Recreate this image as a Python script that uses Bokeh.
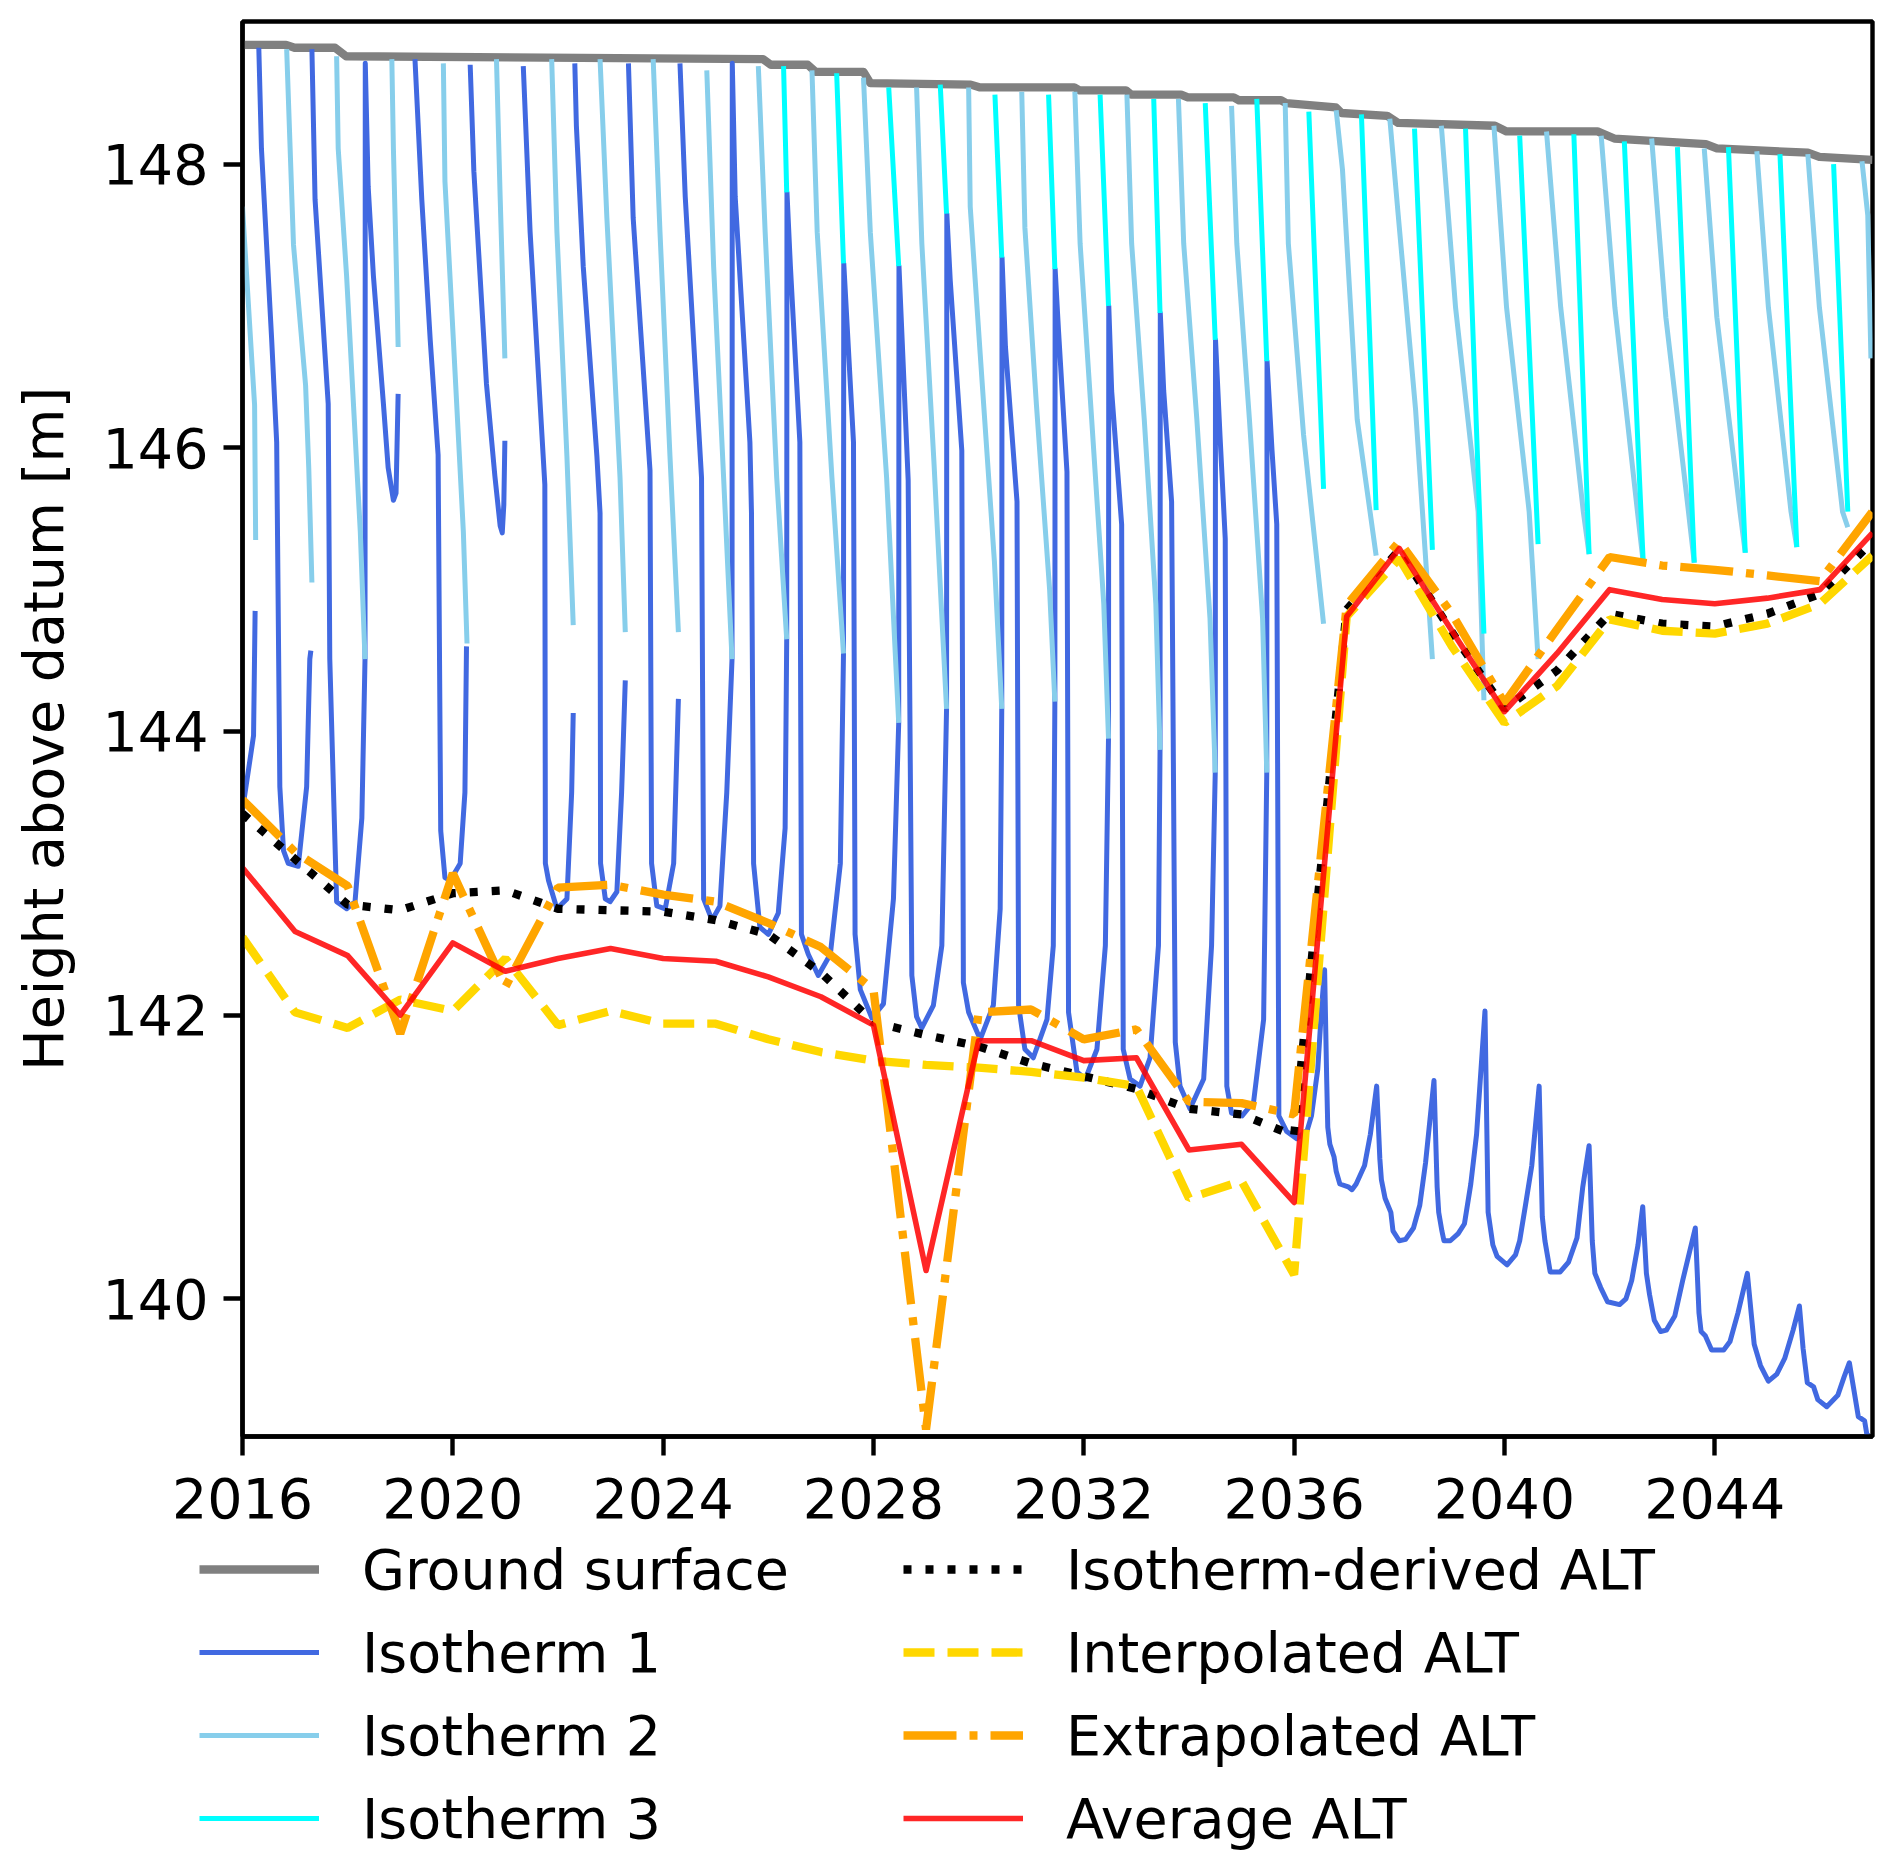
import math
from bokeh.plotting import figure
from bokeh.models import Range1d, FixedTicker, Legend, LegendItem
from bokeh.embed import file_html
from bokeh.resources import INLINE

NaN = float("nan")

# ---------------- data ----------------
years = list(range(2016, 2048))

isotherm_alt = [143.42, 143.10, 142.78, 142.74, 142.86, 142.88, 142.75, 142.74, 142.73, 142.67,
                142.57, 142.30, 141.95, 141.86, 141.78, 141.66, 141.57, 141.48, 141.34, 141.30,
                141.15, 144.86, 145.28, 144.70, 144.16, 144.43, 144.83, 144.76, 144.74, 144.83,
                144.97, 145.34]
interp_alt = [142.55, 142.02, 141.91, 142.11, 142.03, 142.40, 141.93, 142.03, 141.94, 141.94,
              141.83, 141.74, 141.68, 141.65, 141.63, 141.60, 141.56, 141.50, 140.71, 140.83,
              140.17, 144.81, 145.22, 144.60, 144.06, 144.32, 144.79, 144.71, 144.69, 144.76,
              144.90, 145.24]
extrap_alt = [143.52, 143.15, 142.91, 141.87, 143.00, 142.20, 142.90, 142.92, 142.85, 142.80,
              142.65, 142.48, 142.18, 139.08, 142.02, 142.04, 141.83, 141.90, 141.39, 141.38,
              141.30, 144.89, 145.34, 144.83, 144.20, 144.72, 145.23, 145.17, 145.14, 145.10,
              145.06, 145.55]
avg_alt = [143.04, 142.59, 142.42, 142.00, 142.51, 142.31, 142.40, 142.47, 142.40, 142.38,
           142.27, 142.13, 141.93, 140.20, 141.82, 141.82, 141.68, 141.70, 141.05, 141.09,
           140.68, 144.81, 145.29, 144.71, 144.14, 144.55, 145.00, 144.93, 144.90, 144.94,
           145.00, 145.40]

ground_t = [2016.0, 2016.83, 2016.99, 2017.76, 2017.97, 2025.9, 2026.05, 2026.75, 2026.9,
            2027.81, 2027.94, 2029.85, 2030.03, 2031.82, 2031.92, 2032.8, 2032.9, 2033.85,
            2033.98, 2034.85, 2034.95, 2035.75, 2035.85, 2036.79, 2036.90, 2037.77, 2037.98,
            2039.82, 2040.04, 2041.77, 2042.09, 2043.83, 2044.04, 2045.77, 2045.99, 2047.0]
ground_z = [148.84, 148.84, 148.82, 148.82, 148.76, 148.74, 148.70, 148.70, 148.65,
            148.65, 148.57, 148.56, 148.54, 148.54, 148.52, 148.52, 148.49, 148.49,
            148.47, 148.47, 148.45, 148.45, 148.43, 148.40, 148.36, 148.34, 148.29,
            148.27, 148.23, 148.23, 148.18, 148.14, 148.11, 148.08, 148.05, 148.03]

# Isotherm 1 (deepest crossing): segments of (time, height)
iso1_segments = [
    [(2016.00, 143.45), (2016.05, 143.57), (2016.21, 143.97), (2016.24, 144.85)],
    [(2016.31, 148.82), (2016.36, 148.11), (2016.555, 146.76), (2016.65, 146.04), (2016.71, 143.61),
     (2016.78, 143.16), (2016.87, 143.07), (2017.06, 143.05), (2017.22, 143.61), (2017.28, 144.51),
     (2017.30, 144.57)],
    [(2017.32, 148.81), (2017.38, 147.75), (2017.63, 146.31), (2017.66, 144.51), (2017.79, 142.80),
     (2017.98, 142.75), (2018.14, 142.80), (2018.27, 143.39), (2018.33, 144.51), (2018.335, 148.71),
     (2018.39, 147.84), (2018.49, 147.21), (2018.68, 146.31), (2018.77, 145.86), (2018.87, 145.63),
     (2018.92, 145.68), (2018.96, 146.38)],
    [(2019.28, 148.74), (2019.41, 147.75), (2019.57, 146.76), (2019.72, 145.95), (2019.77, 143.30),
     (2019.85, 142.97), (2019.95, 142.95), (2020.14, 143.07), (2020.23, 143.57), (2020.26, 144.60)],
    [(2020.33, 148.70), (2020.40, 147.95), (2020.64, 146.45), (2020.80, 145.80), (2020.90, 145.45),
     (2020.94, 145.40), (2020.97, 145.60), (2020.99, 146.05)],
    [(2021.34, 148.69), (2021.47, 147.52), (2021.75, 145.74), (2021.76, 143.07), (2021.82, 142.95),
     (2021.98, 142.75), (2022.17, 142.82), (2022.26, 143.57), (2022.29, 144.13)],
    [(2022.32, 148.71), (2022.35, 148.27), (2022.48, 147.28), (2022.74, 145.94), (2022.80, 145.54),
     (2022.81, 143.07), (2022.90, 142.82), (2022.99, 142.80), (2023.12, 142.87), (2023.21, 143.57),
     (2023.28, 144.36)],
    [(2023.34, 148.71), (2023.43, 147.62), (2023.75, 145.84), (2023.78, 143.07), (2023.88, 142.77),
     (2024.04, 142.75), (2024.20, 143.07), (2024.29, 144.23)],
    [(2024.32, 148.71), (2024.42, 147.77), (2024.73, 145.79), (2024.77, 142.82), (2024.93, 142.67),
     (2025.08, 142.77), (2025.21, 143.57), (2025.31, 144.51), (2025.315, 148.71), (2025.37, 147.77),
     (2025.65, 146.04), (2025.68, 145.54), (2025.72, 143.07), (2025.84, 142.62), (2026.00, 142.57),
     (2026.19, 142.72), (2026.32, 143.32), (2026.35, 144.65), (2026.355, 147.80), (2026.42, 147.28),
     (2026.60, 146.04), (2026.63, 142.57), (2026.76, 142.43), (2026.95, 142.28), (2027.18, 142.43),
     (2027.37, 143.07), (2027.43, 144.55), (2027.435, 147.30), (2027.62, 146.04), (2027.65, 142.57),
     (2027.75, 142.18), (2027.97, 141.98), (2028.19, 142.08), (2028.38, 142.82), (2028.48, 144.06),
     (2028.485, 147.28), (2028.66, 145.77), (2028.73, 142.28), (2028.82, 141.99), (2028.92, 141.91),
     (2029.14, 142.07), (2029.30, 142.49), (2029.39, 144.16), (2029.395, 147.65), (2029.46, 147.18),
     (2029.68, 145.98), (2029.71, 142.23), (2029.81, 142.02), (2030.03, 141.83), (2030.28, 142.07),
     (2030.41, 142.75), (2030.44, 144.16), (2030.445, 147.34), (2030.51, 146.71), (2030.73, 145.62),
     (2030.76, 142.07), (2030.88, 141.76), (2031.04, 141.70), (2031.30, 141.97), (2031.42, 142.49),
     (2031.45, 144.21), (2031.455, 147.26), (2031.52, 146.82), (2031.68, 145.83), (2031.71, 142.02),
     (2031.87, 141.60), (2032.03, 141.55), (2032.25, 141.76), (2032.41, 142.49), (2032.47, 143.95),
     (2032.475, 147.00), (2032.53, 146.40), (2032.72, 145.46), (2032.75, 141.76), (2032.88, 141.55),
     (2033.07, 141.50), (2033.26, 141.70), (2033.42, 142.49), (2033.45, 143.87), (2033.455, 146.95),
     (2033.52, 146.40), (2033.67, 145.62), (2033.74, 141.81), (2033.83, 141.50), (2034.02, 141.34),
     (2034.28, 141.55), (2034.43, 142.49), (2034.50, 143.71), (2034.505, 146.76), (2034.59, 146.09),
     (2034.69, 145.36), (2034.72, 141.50), (2034.81, 141.31), (2035.01, 141.29), (2035.23, 141.39),
     (2035.42, 141.97), (2035.48, 143.71), (2035.485, 146.61), (2035.58, 145.98), (2035.67, 145.46),
     (2035.71, 141.29), (2035.86, 141.18), (2036.05, 141.13), (2036.25, 141.19), (2036.33, 141.29),
     (2036.45, 141.62), (2036.52, 142.04), (2036.58, 142.32), (2036.62, 141.54), (2036.64, 141.21),
     (2036.68, 141.09), (2036.76, 141.00), (2036.80, 140.90), (2036.87, 140.81), (2037.03, 140.79),
     (2037.10, 140.77), (2037.18, 140.81), (2037.34, 140.94), (2037.45, 141.16), (2037.57, 141.50),
     (2037.63, 140.99), (2037.66, 140.84), (2037.73, 140.71), (2037.84, 140.61), (2037.88, 140.48),
     (2038.00, 140.41), (2038.12, 140.42), (2038.27, 140.50), (2038.39, 140.66), (2038.50, 140.96),
     (2038.66, 141.54), (2038.72, 140.79), (2038.75, 140.61), (2038.81, 140.48), (2038.85, 140.41),
     (2038.97, 140.41), (2039.12, 140.46), (2039.24, 140.53), (2039.36, 140.81), (2039.47, 141.16),
     (2039.63, 142.03), (2039.69, 140.61), (2039.78, 140.38), (2039.86, 140.30), (2040.05, 140.24),
     (2040.21, 140.31), (2040.29, 140.41), (2040.40, 140.66), (2040.52, 140.94), (2040.66, 141.50),
     (2040.72, 140.58), (2040.77, 140.41), (2040.83, 140.28), (2040.87, 140.19), (2041.06, 140.19),
     (2041.22, 140.26), (2041.38, 140.43), (2041.49, 140.79), (2041.61, 141.08), (2041.67, 140.41),
     (2041.72, 140.18), (2041.83, 140.08), (2041.96, 139.98), (2042.19, 139.96), (2042.31, 140.00),
     (2042.42, 140.13), (2042.54, 140.38), (2042.63, 140.65), (2042.70, 140.18), (2042.76, 140.03),
     (2042.85, 139.85), (2042.97, 139.77), (2043.08, 139.78), (2043.24, 139.88), (2043.39, 140.13),
     (2043.63, 140.50), (2043.70, 139.90), (2043.74, 139.77), (2043.82, 139.74), (2043.94, 139.64),
     (2044.17, 139.64), (2044.29, 139.70), (2044.44, 139.90), (2044.62, 140.18), (2044.70, 139.87),
     (2044.75, 139.68), (2044.87, 139.53), (2045.02, 139.42), (2045.18, 139.47), (2045.33, 139.58),
     (2045.49, 139.78), (2045.61, 139.95), (2045.68, 139.65), (2045.76, 139.41), (2045.88, 139.38),
     (2045.96, 139.29), (2046.13, 139.24), (2046.34, 139.32), (2046.46, 139.45), (2046.56, 139.55),
     (2046.65, 139.35), (2046.73, 139.17), (2046.85, 139.14), (2046.89, 139.05), (2046.93, 139.04)],
]

# Isotherm 2
iso2_segments = [
    [(2016.00, 147.70), (2016.04, 147.45), (2016.18, 146.60), (2016.23, 146.30), (2016.25, 145.35)],
    [(2016.84, 148.81), (2016.90, 148.17), (2016.97, 147.43), (2017.20, 146.44), (2017.26, 145.86), (2017.32, 145.05)],
    [(2017.79, 148.76), (2017.82, 148.11), (2017.98, 147.21), (2018.24, 145.41), (2018.33, 144.51)],
    [(2018.84, 148.74), (2018.87, 148.11), (2018.93, 147.21), (2018.96, 146.71)],
    [(2019.82, 148.71), (2019.85, 147.88), (2020.01, 146.76), (2020.20, 145.41), (2020.27, 144.62)],
    [(2020.83, 148.74), (2020.90, 147.77), (2020.99, 146.63)],
    [(2021.88, 148.74), (2021.98, 147.52), (2022.17, 145.94), (2022.29, 144.75)],
    [(2022.80, 148.74), (2022.93, 147.62), (2023.18, 145.79), (2023.28, 144.70)],
    [(2023.81, 148.74), (2023.94, 147.52), (2024.13, 145.94), (2024.29, 144.70)],
    [(2024.83, 148.66), (2024.96, 147.28), (2025.15, 145.79), (2025.31, 144.51)],
    [(2025.81, 148.69), (2025.94, 147.52), (2026.16, 145.79), (2026.35, 144.65)],
    [(2026.83, 148.66), (2026.93, 147.52), (2027.21, 145.79), (2027.43, 144.55)],
    [(2027.81, 148.61), (2027.94, 147.52), (2028.25, 145.79), (2028.48, 144.06)],
    [(2028.82, 148.54), (2028.92, 147.44), (2029.15, 145.90), (2029.39, 144.16)],
    [(2029.81, 148.54), (2029.84, 147.70), (2030.03, 146.66), (2030.30, 145.20), (2030.44, 144.16)],
    [(2030.82, 148.51), (2030.88, 147.55), (2031.10, 146.30), (2031.35, 145.00), (2031.45, 144.21)],
    [(2031.83, 148.51), (2031.93, 147.44), (2032.15, 146.20), (2032.38, 144.90), (2032.47, 143.95)],
    [(2032.82, 148.49), (2032.91, 147.44), (2033.15, 146.20), (2033.37, 144.90), (2033.45, 143.87)],
    [(2033.80, 148.46), (2033.90, 147.44), (2034.15, 146.20), (2034.40, 144.80), (2034.50, 143.71)],
    [(2034.81, 148.41), (2034.91, 147.44), (2035.15, 146.20), (2035.40, 144.80), (2035.48, 143.71)],
    [(2035.83, 148.43), (2035.89, 147.44), (2036.18, 146.09), (2036.56, 144.76)],
    [(2036.80, 148.38), (2036.92, 147.96), (2037.20, 146.20), (2037.56, 145.24)],
    [(2037.82, 148.32), (2037.98, 147.64), (2038.31, 146.27), (2038.63, 144.51)],
    [(2038.80, 148.27), (2039.07, 146.99), (2039.50, 145.55), (2039.61, 144.22)],
    [(2039.80, 148.27), (2040.04, 146.99), (2040.47, 145.55), (2040.64, 144.51)],
    [(2040.80, 148.23), (2041.07, 146.99), (2041.50, 145.55), (2041.61, 145.25)],
    [(2041.84, 148.20), (2042.10, 146.99), (2042.53, 145.55), (2042.64, 145.19)],
    [(2042.80, 148.18), (2043.07, 146.92), (2043.50, 145.55), (2043.61, 145.19)],
    [(2043.80, 148.11), (2044.04, 146.92), (2044.48, 145.55), (2044.58, 145.26)],
    [(2044.80, 148.09), (2045.02, 146.99), (2045.45, 145.55), (2045.56, 145.30)],
    [(2045.77, 148.07), (2045.99, 146.99), (2046.43, 145.55), (2046.53, 145.44)],
    [(2046.80, 148.02), (2046.91, 147.64), (2046.97, 146.63)],
]

# Isotherm 3
iso3_segments = [
    [(2026.29, 148.69), (2026.35, 147.80)],
    [(2027.30, 148.64), (2027.43, 147.30)],
    [(2028.29, 148.54), (2028.48, 147.28)],
    [(2029.27, 148.56), (2029.39, 147.65)],
    [(2030.31, 148.49), (2030.44, 147.34)],
    [(2031.33, 148.49), (2031.45, 147.26)],
    [(2032.31, 148.49), (2032.47, 147.00)],
    [(2033.33, 148.46), (2033.45, 146.95)],
    [(2034.31, 148.43), (2034.50, 146.76)],
    [(2035.29, 148.46), (2035.48, 146.61)],
    [(2036.28, 148.37), (2036.56, 145.71)],
    [(2037.28, 148.35), (2037.56, 145.56)],
    [(2038.29, 148.25), (2038.63, 145.28)],
    [(2039.26, 148.25), (2039.61, 144.69)],
    [(2040.29, 148.20), (2040.64, 145.32)],
    [(2041.32, 148.21), (2041.61, 145.25)],
    [(2042.28, 148.16), (2042.64, 145.19)],
    [(2043.29, 148.12), (2043.61, 145.19)],
    [(2044.26, 148.12), (2044.58, 145.26)],
    [(2045.24, 148.07), (2045.56, 145.30)],
    [(2046.26, 148.00), (2046.53, 145.55)],
]

x_ticks = [2016, 2020, 2024, 2028, 2032, 2036, 2040, 2044]
y_ticks = [140, 142, 144, 146, 148]


def join(segs):
    t, z = [], []
    for i, s in enumerate(segs):
        if i:
            t.append(NaN)
            z.append(NaN)
        t += [a for a, b in s]
        z += [b for a, b in s]
    return t, z


FONT = "DejaVu Sans"
FS = "55.5px"

STYLES = {
    "ground": dict(line_color="gray", line_width=8.3, line_join="round"),
    "iso1": dict(line_color="royalblue", line_width=5, line_join="round"),
    "iso2": dict(line_color="skyblue", line_width=5, line_join="round"),
    "iso3": dict(line_color="cyan", line_width=5, line_join="round"),
    "black": dict(line_color="black", line_width=8.3, line_dash="8 14"),
    "yellow": dict(line_color="gold", line_width=8.3, line_dash="31 13"),
    "orange": dict(line_color="orange", line_width=8.3, line_dash="53 13 8 13"),
    "red": dict(line_color="red", line_alpha=0.85, line_width=5.6, line_join="round"),
}

p = figure(frame_width=1630, frame_height=1415,
           x_range=Range1d(2016, 2047), y_range=Range1d(139.03, 149.005),
           output_backend="svg", toolbar_location=None,
           min_border_left=242, min_border_right=4, min_border_top=21, min_border_bottom=100)
p.background_fill_color = "white"
p.border_fill_color = "white"
p.outline_line_color = "black"
p.outline_line_width = 4.4
p.outline_line_alpha = 1.0
p.xgrid.visible = False
p.ygrid.visible = False

for ax in (p.xaxis[0], p.yaxis[0]):
    ax.axis_line_color = "black"
    ax.axis_line_width = 4.4
    ax.major_tick_line_color = "black"
    ax.major_tick_line_width = 4.4
    ax.major_tick_out = 19
    ax.major_tick_in = 0
    ax.minor_tick_line_color = None
    ax.major_label_text_font = FONT
    ax.major_label_text_font_size = FS
    ax.major_label_text_color = "black"

p.xaxis.ticker = FixedTicker(ticks=x_ticks)
p.yaxis.ticker = FixedTicker(ticks=y_ticks)
p.xaxis.major_label_standoff = 22
p.yaxis.major_label_standoff = 15
p.yaxis.axis_label = "Height above datum [m]"
p.yaxis.axis_label_text_font = FONT
p.yaxis.axis_label_text_font_size = FS
p.yaxis.axis_label_text_font_style = "normal"
p.yaxis.axis_label_text_color = "black"
p.yaxis.axis_label_standoff = 24

p.line(ground_t, ground_z, **STYLES["ground"])
t1, z1 = join(iso1_segments)
p.line(t1, z1, **STYLES["iso1"])
t2, z2 = join(iso2_segments)
p.line(t2, z2, **STYLES["iso2"])
t3, z3 = join(iso3_segments)
p.line(t3, z3, **STYLES["iso3"])
p.line(years, isotherm_alt, **STYLES["black"])
p.line(years, interp_alt, **STYLES["yellow"])
p.line(years, extrap_alt, **STYLES["orange"])
p.line(years, avg_alt, **STYLES["red"])

# ---------------- legend panel (separate root below the chart) ----------------
lp = figure(width=1876, height=323, x_range=Range1d(0, 1), y_range=Range1d(0, 1),
            output_backend="svg", toolbar_location=None, x_axis_type=None, y_axis_type=None,
            min_border_left=0, min_border_right=0, min_border_top=0, min_border_bottom=0)
lp.outline_line_color = None
lp.background_fill_color = "white"
lp.border_fill_color = "white"
lp.grid.visible = False

# legend handles (no visible marks: a single missing value each)
handles = {k: lp.line(x=[NaN], y=[NaN], **v) for k, v in STYLES.items()}


def make_legend(items, loc):
    lg = Legend(items=[LegendItem(label=l, renderers=[handles[k]]) for l, k in items], location=loc)
    lg.orientation = "vertical"
    lg.glyph_width = 120
    lg.glyph_height = 66
    lg.label_height = 66
    lg.label_standoff = 43
    lg.spacing = 17
    lg.padding = 0
    lg.margin = 0
    lg.border_line_alpha = 0
    lg.background_fill_alpha = 0
    lg.label_text_font = FONT
    lg.label_text_font_size = FS
    lg.label_text_color = "black"
    return lg


lp.add_layout(make_legend([("Ground surface", "ground"), ("Isotherm 1", "iso1"),
                           ("Isotherm 2", "iso2"), ("Isotherm 3", "iso3")], (199, 8)))
lp.add_layout(make_legend([("Isotherm-derived ALT", "black"), ("Interpolated ALT", "yellow"),
                           ("Extrapolated ALT", "orange"), ("Average ALT", "red")], (903, 8)))

open("out.html", "w").write(file_html([p, lp], INLINE))
